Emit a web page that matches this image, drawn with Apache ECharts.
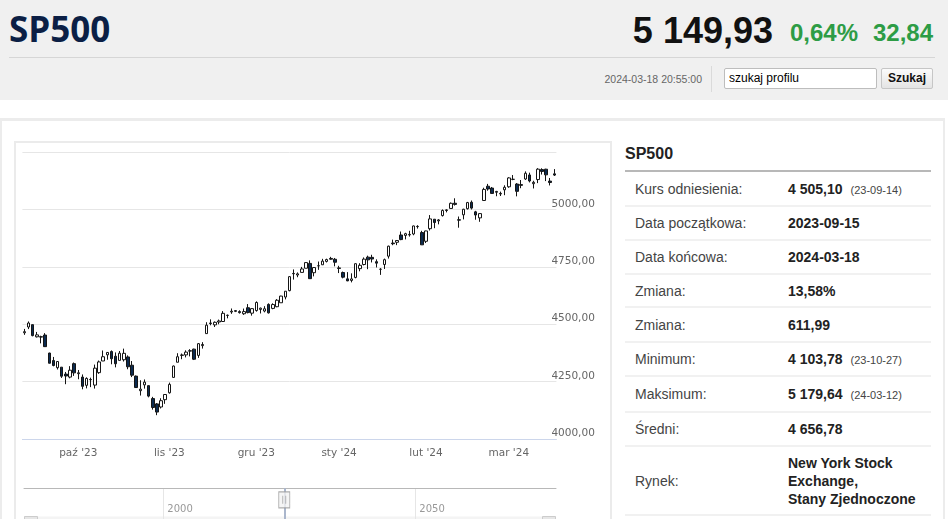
<!DOCTYPE html>
<html lang="pl">
<head>
<meta charset="UTF-8" />
<title>SP500</title>
<script src="https://cdn.jsdelivr.net/npm/echarts@6/dist/echarts.min.js"></script>
<style>
  *{box-sizing:border-box;margin:0;padding:0;}
  html,body{width:948px;height:519px;overflow:hidden;background:#fff;}
  body{position:relative;font-family:"Liberation Sans",Arial,sans-serif;color:#222;}
  /* naglowek */
  .hdr{position:absolute;left:0;top:0;width:948px;height:100px;background:#f0f0f0;}
  .name{position:absolute;left:9px;top:9px;font:bold 35px/40px "Open Sans",sans-serif;color:#0b1f45;white-space:nowrap;}
  .price{position:absolute;right:175px;top:11px;font:bold 36px/40px "Liberation Sans",Arial,sans-serif;color:#111;white-space:nowrap;}
  .chg{position:absolute;top:19px;font:bold 24px/28px "Liberation Sans",Arial,sans-serif;color:#2d9c45;white-space:nowrap;}
  .hline{position:absolute;left:9px;top:57px;width:926px;height:1px;background:#d6d6d6;}
  .stamp{position:absolute;right:246px;top:72px;font:10.5px/14px "Liberation Sans",Arial,sans-serif;color:#666;white-space:nowrap;}
  .vsep{position:absolute;left:711px;top:66px;width:1px;height:26px;background:#dadada;}
  .search{position:absolute;left:724px;top:68px;width:153px;height:21px;border:1px solid #bdbdbd;border-radius:2px;background:#fff;
          font:12px/19px "Liberation Sans",Arial,sans-serif;color:#000;padding-left:4px;}
  .btn{position:absolute;left:881px;top:68px;width:52px;height:21px;border:1px solid #c6c6c6;border-radius:2px;
       background:linear-gradient(#fbfbfb,#e4e4e4);font:bold 12px/19px "Liberation Sans",Arial,sans-serif;color:#111;text-align:center;}
  /* zawartosc */
  .wrap{position:absolute;left:0;top:118px;width:945px;height:420px;border:3px solid #ececec;border-bottom:none;border-left-width:2px;border-right-width:2px;}
  .box{position:absolute;left:14px;top:141px;width:598px;height:400px;border:2px solid #ebebeb;}
  #chart{position:absolute;left:15px;top:143px;width:594px;height:376px;}
  .side-title{position:absolute;left:625px;top:144px;font:bold 16px/20px "Liberation Sans",Arial,sans-serif;color:#222;}
  .side-line{position:absolute;left:625px;top:170px;width:306px;height:2px;background:#b8b8b8;}
  .tbl{position:absolute;left:625px;top:172px;width:306px;}
  .row{display:flex;align-items:center;padding-left:10px;border-bottom:2px solid #f1f1f1;}
  .lab{width:153px;font:14px/18px "Liberation Sans",Arial,sans-serif;color:#444;}
  .val{flex:1;font:bold 14px/18px "Liberation Sans",Arial,sans-serif;color:#222;}
  .val small{font:normal 11px "Liberation Sans",Arial,sans-serif;color:#444;margin-left:8px;}
</style>
</head>
<body>
<div class="hdr">
  <div class="name">SP500</div>
  <div class="price">5 149,93</div>
  <div class="chg" style="right:90px">0,64%</div>
  <div class="chg" style="right:15px">32,84</div>
  <div class="hline"></div>
  <div class="stamp">2024-03-18 20:55:00</div>
  <div class="vsep"></div>
  <div class="search">szukaj profilu</div>
  <div class="btn">Szukaj</div>
</div>

<div class="wrap"></div>
<div class="box"></div>
<div id="chart"></div>

<div class="side-title">SP500</div>
<div class="side-line"></div>
<div class="tbl">
  <div class="row" style="height:35px"><div class="lab">Kurs odniesienia:</div><div class="val">4 505,10<small>(23-09-14)</small></div></div>
  <div class="row" style="height:34px"><div class="lab">Data początkowa:</div><div class="val">2023-09-15</div></div>
  <div class="row" style="height:34px"><div class="lab">Data końcowa:</div><div class="val">2024-03-18</div></div>
  <div class="row" style="height:33px"><div class="lab">Zmiana:</div><div class="val">13,58%</div></div>
  <div class="row" style="height:35px"><div class="lab">Zmiana:</div><div class="val">611,99</div></div>
  <div class="row" style="height:34px"><div class="lab">Minimum:</div><div class="val">4 103,78<small>(23-10-27)</small></div></div>
  <div class="row" style="height:36px"><div class="lab">Maksimum:</div><div class="val">5 179,64<small>(24-03-12)</small></div></div>
  <div class="row" style="height:34px"><div class="lab">Średni:</div><div class="val">4 656,78</div></div>
  <div class="row" style="height:69px"><div class="lab">Rynek:</div><div class="val">New York Stock Exchange,<br>Stany Zjednoczone</div></div>
</div>

<script>
// notowania dzienne SP500
const dates = [
  '2023-09-13','2023-09-14','2023-09-15','2023-09-18','2023-09-19','2023-09-20','2023-09-21','2023-09-22','2023-09-25','2023-09-26',
  '2023-09-27','2023-09-28','2023-09-29','2023-10-02','2023-10-03','2023-10-04','2023-10-05','2023-10-06','2023-10-09','2023-10-10',
  '2023-10-11','2023-10-12','2023-10-13','2023-10-16','2023-10-17','2023-10-18','2023-10-19','2023-10-20','2023-10-23','2023-10-24',
  '2023-10-25','2023-10-26','2023-10-27','2023-10-30','2023-10-31','2023-11-01','2023-11-02','2023-11-03','2023-11-06','2023-11-07',
  '2023-11-08','2023-11-09','2023-11-10','2023-11-13','2023-11-14','2023-11-15','2023-11-16','2023-11-17','2023-11-20','2023-11-21',
  '2023-11-22','2023-11-24','2023-11-27','2023-11-28','2023-11-29','2023-11-30','2023-12-01','2023-12-04','2023-12-05','2023-12-06',
  '2023-12-07','2023-12-08','2023-12-11','2023-12-12','2023-12-13','2023-12-14','2023-12-15','2023-12-18','2023-12-19','2023-12-20',
  '2023-12-21','2023-12-22','2023-12-26','2023-12-27','2023-12-28','2023-12-29','2024-01-02','2024-01-03','2024-01-04','2024-01-05',
  '2024-01-08','2024-01-09','2024-01-10','2024-01-11','2024-01-12','2024-01-16','2024-01-17','2024-01-18','2024-01-19','2024-01-22',
  '2024-01-23','2024-01-24','2024-01-25','2024-01-26','2024-01-29','2024-01-30','2024-01-31','2024-02-01','2024-02-02','2024-02-05',
  '2024-02-06','2024-02-07','2024-02-08','2024-02-09','2024-02-12','2024-02-13','2024-02-14','2024-02-15','2024-02-16','2024-02-20',
  '2024-02-21','2024-02-22','2024-02-23','2024-02-26','2024-02-27','2024-02-28','2024-02-29','2024-03-01','2024-03-04','2024-03-05',
  '2024-03-06','2024-03-07','2024-03-08','2024-03-11','2024-03-12','2024-03-13','2024-03-14','2024-03-15','2024-03-18'
];
const opens = [
  4462.65,4487.78,4497.98,4445.13,4445.41,4452.81,4374.36,4341.74,4310.62,4312.88,
  4282.63,4269.65,4328.18,4284.52,4269.75,4233.83,4259.31,4234.79,4289.02,4339.75,
  4366.59,4380.94,4360.49,4342.37,4345.23,4357.35,4321.36,4273.85,4210.40,4235.79,
  4232.42,4175.99,4152.93,4139.39,4171.33,4201.27,4268.26,4334.23,4364.27,4366.21,
  4384.37,4391.41,4364.15,4406.66,4458.97,4505.30,4497.08,4509.55,4511.70,4538.77,
  4553.04,4555.84,4554.86,4545.55,4571.84,4548.04,4559.43,4564.37,4557.25,4586.23,
  4568.84,4576.20,4593.39,4618.30,4646.20,4721.04,4714.23,4725.58,4743.72,4764.73,
  4724.29,4753.92,4758.86,4773.45,4786.44,4782.88,4745.20,4725.07,4697.42,4690.57,
  4703.70,4741.93,4759.94,4792.13,4791.18,4772.35,4739.13,4760.10,4796.28,4853.42,
  4856.80,4888.56,4886.66,4888.91,4892.95,4925.89,4899.19,4861.11,4916.06,4957.19,
  4950.16,4973.05,4995.16,5004.17,5026.83,4955.00,4976.44,5003.14,5031.13,4989.32,
  4963.03,5038.83,5100.92,5093.00,5074.60,5067.20,5085.36,5098.51,5130.99,5110.52,
  5108.03,5132.38,5150.00,5111.96,5130.00,5173.49,5175.14,5123.31,5154.77
];
const highs = [
  4479.39,4511.99,4497.98,4466.36,4449.85,4461.03,4375.70,4357.40,4338.51,4313.01,
  4292.07,4317.27,4333.15,4300.58,4281.15,4268.50,4267.13,4324.10,4341.73,4385.46,
  4378.64,4385.85,4377.10,4383.33,4393.57,4364.20,4339.54,4276.56,4255.84,4259.38,
  4232.42,4183.60,4156.70,4177.47,4195.55,4245.64,4319.72,4373.62,4372.21,4386.26,
  4391.20,4393.40,4418.03,4421.76,4508.67,4521.17,4511.99,4520.12,4557.11,4542.14,
  4568.43,4560.31,4560.52,4568.14,4587.64,4569.89,4599.39,4572.37,4578.56,4590.74,
  4590.92,4609.23,4623.71,4643.93,4709.69,4738.57,4725.53,4749.52,4768.69,4778.01,
  4748.71,4772.94,4784.72,4785.39,4793.30,4788.43,4754.33,4729.29,4726.78,4721.49,
  4764.54,4765.47,4790.80,4798.50,4802.40,4782.34,4744.23,4785.79,4842.07,4868.41,
  4866.48,4903.68,4898.15,4906.69,4929.31,4931.09,4906.75,4906.97,4975.29,4957.19,
  4957.77,4999.89,5000.40,5030.06,5048.39,4969.00,5002.52,5032.72,5038.70,4993.71,
  4983.21,5094.39,5111.06,5097.66,5080.69,5077.37,5104.99,5140.33,5149.67,5114.54,
  5127.97,5165.62,5160.00,5124.66,5179.64,5179.14,5176.85,5136.86,5175.60
];
const lows = [
  4453.52,4478.69,4447.21,4442.11,4416.61,4401.38,4329.17,4316.49,4302.70,4265.98,
  4238.63,4264.38,4274.86,4260.21,4216.45,4220.48,4225.91,4219.55,4283.79,4339.64,
  4345.34,4325.43,4311.97,4342.37,4337.54,4303.84,4269.69,4223.03,4189.22,4219.43,
  4181.42,4127.90,4103.78,4132.94,4153.12,4197.74,4268.26,4334.23,4347.53,4355.41,
  4359.76,4343.94,4353.34,4393.82,4458.97,4495.31,4487.83,4499.66,4510.36,4525.51,
  4545.05,4552.80,4546.32,4540.51,4547.15,4537.24,4554.71,4546.72,4551.68,4546.50,
  4565.22,4574.06,4593.39,4608.09,4643.23,4694.34,4704.69,4725.58,4743.72,4697.82,
  4708.35,4736.77,4758.45,4768.90,4780.98,4751.99,4722.67,4699.71,4687.53,4682.11,
  4699.82,4730.35,4756.20,4739.58,4768.98,4747.12,4714.82,4740.57,4785.87,4844.05,
  4844.37,4865.94,4869.34,4881.47,4887.40,4916.27,4845.15,4853.52,4907.99,4918.09,
  4934.88,4969.05,4987.09,5004.17,5016.83,4920.31,4956.45,4999.44,4999.52,4955.02,
  4946.00,5038.83,5081.46,5068.91,5057.29,5058.35,5061.89,5094.16,5127.18,5056.82,
  5092.22,5128.21,5117.50,5091.14,5114.48,5151.88,5123.30,5104.35,5145.47
];
const closes = [
  4467.44,4505.10,4450.32,4453.53,4443.95,4402.20,4330.00,4320.06,4337.44,4273.53,
  4274.51,4299.70,4288.05,4288.39,4229.45,4263.75,4258.19,4308.50,4335.66,4358.24,
  4376.95,4349.61,4327.78,4373.63,4373.20,4314.60,4278.00,4224.16,4217.04,4247.68,
  4186.77,4137.23,4117.37,4166.82,4193.80,4237.86,4317.78,4358.34,4365.98,4378.38,
  4382.78,4347.35,4415.24,4411.55,4495.70,4502.88,4508.24,4514.02,4547.38,4538.19,
  4556.62,4559.34,4550.43,4554.89,4550.58,4567.80,4594.63,4569.78,4567.18,4549.34,
  4585.59,4604.37,4622.44,4643.70,4707.09,4719.55,4719.19,4740.56,4768.37,4698.35,
  4746.75,4754.63,4774.75,4781.58,4783.35,4769.83,4742.83,4704.81,4688.68,4697.24,
  4763.54,4756.50,4783.45,4780.24,4783.83,4765.98,4739.21,4780.94,4839.81,4850.43,
  4864.60,4868.55,4894.16,4890.97,4927.93,4924.97,4845.65,4906.19,4958.61,4942.81,
  4954.23,4995.06,4997.91,5026.61,5021.84,4953.17,5000.62,5029.73,5005.57,4975.51,
  4981.80,5087.03,5088.80,5069.53,5078.18,5069.76,5096.27,5137.08,5130.95,5078.65,
  5104.76,5157.36,5123.69,5117.94,5175.27,5165.31,5150.48,5117.09,5149.42
];
const monthNames = ['sty','lut','mar','kwi','maj','cze','lip','sie','wrz','paź','lis','gru'];
// os nawigatora
const navTicks = [2000, 2050];
const navHandle = 2024;

// pierwsze notowanie kazdego miesiaca -> etykieta osi
const monthStarts = dates.map((d,i)=> i>0 && d.slice(5,7)!==dates[i-1].slice(5,7) ? i : -1).filter(i=>i>=0);
const isMonthStart = i => monthStarts.indexOf(i) >= 0;
const fmtMonth = v => monthNames[+v.slice(5,7)-1] + " '" + v.slice(2,4);
const candles = dates.map((d,i)=>[opens[i], closes[i], lows[i], highs[i]]);

const chart = echarts.init(document.getElementById('chart'));
chart.setOption({
  animation:false,
  grid:[
    {left:7.4, top:9, width:534, height:287},
    {left:9, top:345.3, width:532, height:40}
  ],
  xAxis:[{
    type:'category', data:dates, boundaryGap:true,
    axisLine:{lineStyle:{color:'#ccd6eb'}},
    axisTick:{alignWithLabel:true, interval:isMonthStart, length:8, lineStyle:{color:'#ccd6eb'}},
    axisLabel:{interval:isMonthStart, formatter:fmtMonth, color:'#666', fontSize:10.5, fontFamily:'DejaVu Sans', margin:9},
    splitLine:{show:false}
  },{
    type:'value', gridIndex:1, position:'top', min:1972.36, max:2077.92,
    axisLine:{show:true, onZero:false, lineStyle:{color:'#b8b8b8'}},
    axisTick:{show:false, customValues:navTicks},
    axisLabel:{inside:true, customValues:navTicks, formatter:v=>String(v), align:'left', verticalAlign:'middle', margin:21,
               padding:[0,0,0,4], color:'#999', fontSize:10, fontFamily:'DejaVu Sans'},
    splitLine:{show:true, lineStyle:{color:'#e6e6e6'}}
  }],
  yAxis:[{
    type:'value', position:'right', min:4000, max:5250, interval:250,
    axisLine:{show:false}, axisTick:{show:false},
    splitLine:{lineStyle:{color:'#e6e6e6'}},
    axisLabel:{showMaxLabel:false, verticalAlign:'bottom', margin:-5, color:'#666', fontSize:10.5, fontFamily:'DejaVu Sans',
               formatter:v=>v.toFixed(2).replace('.', ',')}
  },{
    type:'value', gridIndex:1, min:0, max:1, show:false
  }],
  series:[{
    type:'candlestick', data:candles, barWidth:3,
    itemStyle:{color:'#ffffff', color0:'#0b2a4f', borderColor:'#151515', borderColor0:'#151515', borderColorDoji:'#151515', borderWidth:1}
  },{
    type:'scatter', xAxisIndex:1, yAxisIndex:1, silent:true, z:5,
    data:[[navHandle, 0.625]],
    symbol:'path://M0,0H11V16H0Z M4,4V12 M7,4V12', symbolSize:[11,16],
    itemStyle:{color:'#f2f2f2', borderColor:'#999', borderWidth:1},
    markLine:{silent:true, symbol:'none', label:{show:false},
              lineStyle:{color:'#aab6cc', width:2, type:'solid'}, data:[{xAxis:navHandle}]}
  }],
  graphic:[
    {type:'rect', silent:true, shape:{x:9, y:373.5, width:532, height:10}, style:{fill:'#f4f4f4'}},
    {type:'rect', silent:true, shape:{x:9.5, y:373.5, width:13, height:10}, style:{fill:'#e6e6e6', stroke:'#cccccc'}},
    {type:'rect', silent:true, shape:{x:527.5, y:373.5, width:13, height:10}, style:{fill:'#e6e6e6', stroke:'#cccccc'}}
  ]
});
</script>
</body>
</html>
